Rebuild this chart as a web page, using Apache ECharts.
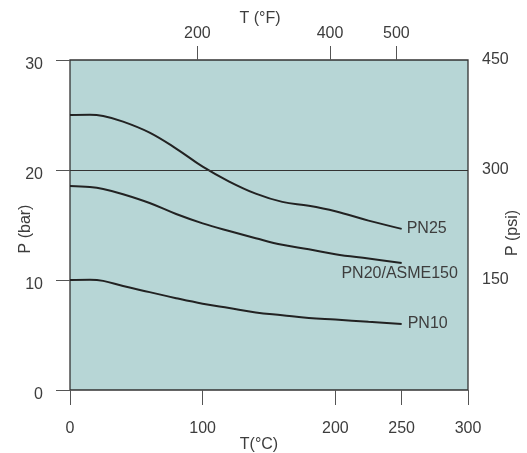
<!DOCTYPE html>
<html>
<head>
<meta charset="utf-8">
<script src="https://cdn.jsdelivr.net/npm/echarts@6/dist/echarts.min.js"></script>
<style>
html,body{margin:0;padding:0;background:#fff;}
#c{width:527px;height:453px;}
</style>
</head>
<body>
<div id="c"></div>
<script>
// Temperatures (°C) and pressures (bar)
const tempC = [0, 15, 25, 40, 60, 80, 100, 120, 140, 160, 180, 200, 225, 250];
const pn25 = [25, 25.02, 24.9, 24.4, 23.4, 21.95, 20.3, 18.95, 17.85, 17.1, 16.75, 16.25, 15.4, 14.65];
const pn20 = [18.55, 18.45, 18.27, 17.8, 17.0, 16.0, 15.15, 14.45, 13.8, 13.2, 12.8, 12.35, 11.95, 11.55];
const pn10 = [10, 10.02, 9.92, 9.45, 8.9, 8.35, 7.85, 7.45, 7.05, 6.8, 6.55, 6.4, 6.2, 6.0];
const seriesNames = ['PN25', 'PN20/ASME150', 'PN10'];
const bottomTicks = [0, 100, 200, 250, 300];
const topTicksF = [200, 400, 500];
const refLineBar = 20;

const font = 'Liberation Sans, Arial, Helvetica, sans-serif';
const txt = '#3d3d3d';

function pairs(vals) {
  return vals.map((v, i) => [tempC[i], v]);
}

const chart = echarts.init(document.getElementById('c'), null, { renderer: 'canvas' });
const lineStyle = { color: '#222', width: 2 };
const noLine = { show: false, onZero: false };
const endLbl = (extra) => Object.assign({ show: true, formatter: '{a}', color: txt, fontSize: 16, fontFamily: font }, extra);

chart.setOption({
  animation: false,
  grid: { left: 70, right: 59, top: 60, bottom: 63, containLabel: false, outerBoundsMode: 'none',
          show: true, backgroundColor: '#b7d6d6', borderColor: '#333', borderWidth: 1.3 },
  xAxis: [
    {
      type: 'value', position: 'bottom', min: 0, max: 300,
      name: 'T(°C)', nameLocation: 'middle', nameGap: 47, nameMoveOverlap: false,
      nameTextStyle: { color: txt, fontSize: 16, fontFamily: font, padding: [0, 20, 0, 0] },
      axisLine: noLine,
      axisTick: { show: true, length: 15, customValues: bottomTicks, lineStyle: { color: '#555' } },
      axisLabel: { customValues: bottomTicks, margin: 31, color: txt, fontSize: 16, fontFamily: font },
      splitLine: { show: false }
    },
    {
      type: 'value', position: 'top', min: 8, max: 608,
      name: 'T (°F)', nameLocation: 'middle', nameGap: 33, nameMoveOverlap: false,
      nameTextStyle: { color: txt, fontSize: 16, fontFamily: font, padding: [0, 18, 0, 0] },
      axisLine: noLine,
      axisTick: { show: true, length: 14, customValues: topTicksF, lineStyle: { color: '#555' } },
      axisLabel: { customValues: topTicksF, margin: 18, color: txt, fontSize: 16, fontFamily: font },
      splitLine: { show: false }
    }
  ],
  yAxis: [
    {
      type: 'value', position: 'left', min: 0, max: 30, interval: 10,
      name: 'P (bar)', nameLocation: 'middle', nameGap: 36, nameRotate: 90, nameMoveOverlap: false,
      nameTextStyle: { color: txt, fontSize: 16, fontFamily: font, padding: [0, 8, 0, 0] },
      axisLine: noLine,
      axisTick: { show: true, length: 14, lineStyle: { color: '#555' } },
      axisLabel: { margin: 27, color: txt, fontSize: 16, fontFamily: font, verticalAlign: 'top', lineHeight: 10 },
      splitLine: { show: false }
    },
    {
      type: 'value', position: 'right', min: 0, max: 450, interval: 150,
      name: 'P (psi)', nameLocation: 'middle', nameGap: 37, nameRotate: 90, nameMoveOverlap: false,
      nameTextStyle: { color: txt, fontSize: 16, fontFamily: font, padding: [0, 16, 0, 0] },
      axisLine: noLine,
      axisTick: { show: false },
      axisLabel: { margin: 14, color: txt, fontSize: 16, fontFamily: font, showMinLabel: false },
      splitLine: { show: false }
    }
  ],
  series: [
    {
      name: seriesNames[0], type: 'line', xAxisIndex: 0, yAxisIndex: 0,
      data: pairs(pn25), smooth: 0.4, symbol: 'none',
      lineStyle: lineStyle, endLabel: endLbl({ distance: 5 }),
      markLine: {
        silent: true, symbol: 'none', label: { show: false },
        lineStyle: { color: '#333', width: 1, type: 'solid' },
        data: [{ yAxis: refLineBar }]
      }
    },
    {
      name: seriesNames[1], type: 'line', xAxisIndex: 0, yAxisIndex: 0,
      data: pairs(pn20), smooth: 0.4, symbol: 'none',
      lineStyle: lineStyle, endLabel: endLbl({ distance: 0, align: 'center', verticalAlign: 'top', offset: [-2, 3] })
    },
    {
      name: seriesNames[2], type: 'line', xAxisIndex: 0, yAxisIndex: 0,
      data: pairs(pn10), smooth: 0.4, symbol: 'none',
      lineStyle: lineStyle, endLabel: endLbl({ distance: 6 })
    }
  ]
});
</script>
</body>
</html>
